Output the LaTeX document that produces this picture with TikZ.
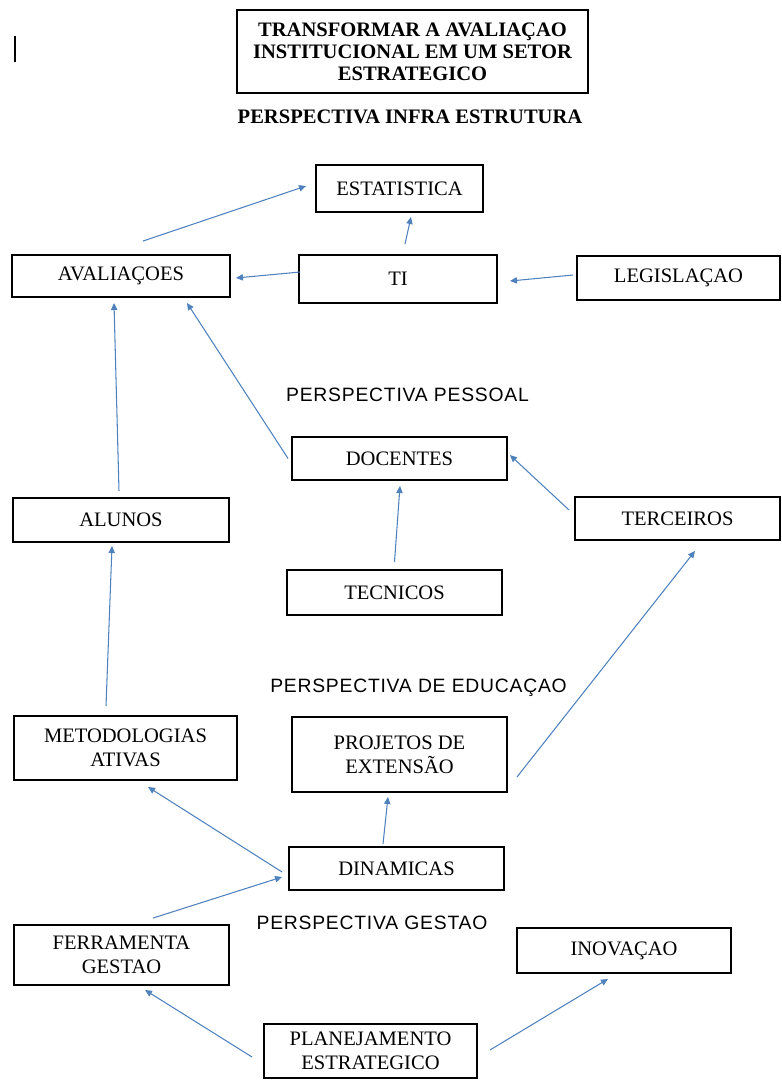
\documentclass[tikz,border=0pt]{standalone}
\usepackage{fontspec}
\setmainfont{Liberation Serif}
\newfontfamily\headsans[LetterSpace=4]{Liberation Sans}
\usepackage{tikz}
\usetikzlibrary{arrows.meta,positioning}
\definecolor{arrblue}{RGB}{79,129,189}

\tikzset{
  box/.style={draw, line width=1.1pt, align=center, inner sep=0pt,
    font=\fontsize{11.7}{13.6}\selectfont},
  arr/.style={-{Triangle[length=4pt,width=3.6pt]}, arrblue, line width=0.6pt},
  head/.style={font=\headsans\fontsize{11}{13}\selectfont},
}

\begin{document}
\begin{tikzpicture}[x=0.02cm,y=-0.02cm]
    \useasboundingbox (0,0) rectangle (782,1080);
    \draw[line width=0.8pt] (15,36) -- (15,62);

    \node[box, minimum width=7.02cm, minimum height=1.66cm,
      font=\bfseries\fontsize{11.7}{12.5}\selectfont] (title) at (412.5,51.5)
      {TRANSFORMAR A AVALIAÇAO\\INSTITUCIONAL EM UM SETOR\\ESTRATEGICO};
    \node[font=\bfseries\fontsize{11.7}{13}\selectfont] (hinfra) at (410,117) {PERSPECTIVA INFRA ESTRUTURA};

    \node[box, minimum width=3.34cm, minimum height=0.94cm] (estat) at (399.5,188.5) {ESTATISTICA};
    \node[box, minimum width=4.36cm, minimum height=0.84cm] (aval) at (121,276) {AVALIAÇOES};
    \node[box, minimum width=3.96cm, minimum height=0.96cm] (ti) at (398,279) {TI};
    \node[box, minimum width=4.06cm, minimum height=0.88cm] (legis) at (678.5,278) {LEGISLAÇAO};

    \node[head] (hpess) at (407.5,395) {PERSPECTIVA PESSOAL};

    \node[box, minimum width=4.30cm, minimum height=0.86cm] (doc) at (399.5,458.5) {DOCENTES};
    \node[box, minimum width=4.32cm, minimum height=0.88cm] (alunos) at (121,520) {ALUNOS};
    \node[box, minimum width=4.10cm, minimum height=0.86cm] (terc) at (677.5,518.5) {TERCEIROS};
    \node[box, minimum width=4.30cm, minimum height=0.90cm] (tec) at (394.5,592.5) {TECNICOS};

    \node[head] (heduc) at (418.5,688) {PERSPECTIVA DE EDUCAÇAO};

    \node[box, minimum width=4.46cm, minimum height=1.28cm] (metod) at (125.5,748) {METODOLOGIAS\\ATIVAS};
    \node[box, minimum width=4.30cm, minimum height=1.50cm] (proj) at (399.5,754.5) {PROJETOS DE\\EXTENSÃO};
    \node[box, minimum width=4.30cm, minimum height=0.86cm] (dinam) at (396.5,868.5) {DINAMICAS};

    \node[head] (hgest) at (372,923) {PERSPECTIVA GESTAO};

    \node[box, minimum width=4.30cm, minimum height=1.20cm] (ferr) at (121.5,955) {FERRAMENTA\\GESTAO};
    \node[box, minimum width=4.28cm, minimum height=0.90cm] (inov) at (624,950.5) {INOVAÇAO};
    \node[box, minimum width=4.26cm, minimum height=1.08cm] (plan) at (370.5,1051) {PLANEJAMENTO\\ESTRATEGICO};

    % infra estrutura
    \draw[arr] ([shift={(22,-13)}]aval.north) -- ([shift={(-9,-2.5)}]estat.west);
    \draw[arr] ([shift={(7,-10)}]ti.north) -- ([shift={(11.5,4)}]estat.south);
    \draw[arr] ([shift={(2,-7)}]ti.west) -- ([shift={(5,2)}]aval.east);
    \draw[arr] ([shift={(-3,-3)}]legis.west) -- ([shift={(12,2)}]ti.east);

    % pessoal
    \draw[arr] ([shift={(-2,-6)}]alunos.north) -- ([shift={(-7,5)}]aval.south);
    \draw[arr] ([shift={(-3,0)}]doc.west) -- ([shift={(66,5)}]aval.south);
    \draw[arr] ([shift={(0,-7)}]tec.north) -- ([shift={(0.5,5)}]doc.south);
    \draw[arr] ([shift={(-5,-8.5)}]terc.west) -- ([shift={(2,-3.5)}]doc.east);

    % educacao
    \draw[arr] ([shift={(-19.5,-9)}]metod.north) -- ([shift={(-9,3)}]alunos.south);
    \draw[arr] ([shift={(9,22.5)}]proj.east) -- ([shift={(17.5,10)}]terc.south);
    \draw[arr] ([shift={(-6,3.5)}]dinam.west) -- ([shift={(22.5,6)}]metod.south);
    \draw[arr] ([shift={(-13.5,-2)}]dinam.north) -- ([shift={(-11.5,4)}]proj.south);

    % gestao
    \draw[arr] ([shift={(31.5,-6)}]ferr.north) -- ([shift={(-6,8.5)}]dinam.west);
    \draw[arr] ([shift={(-11,6)}]plan.west) -- ([shift={(23.5,4)}]ferr.south);
    \draw[arr] ([shift={(12,-1)}]plan.east) -- ([shift={(-16,5)}]inov.south);
\end{tikzpicture}
\end{document}
